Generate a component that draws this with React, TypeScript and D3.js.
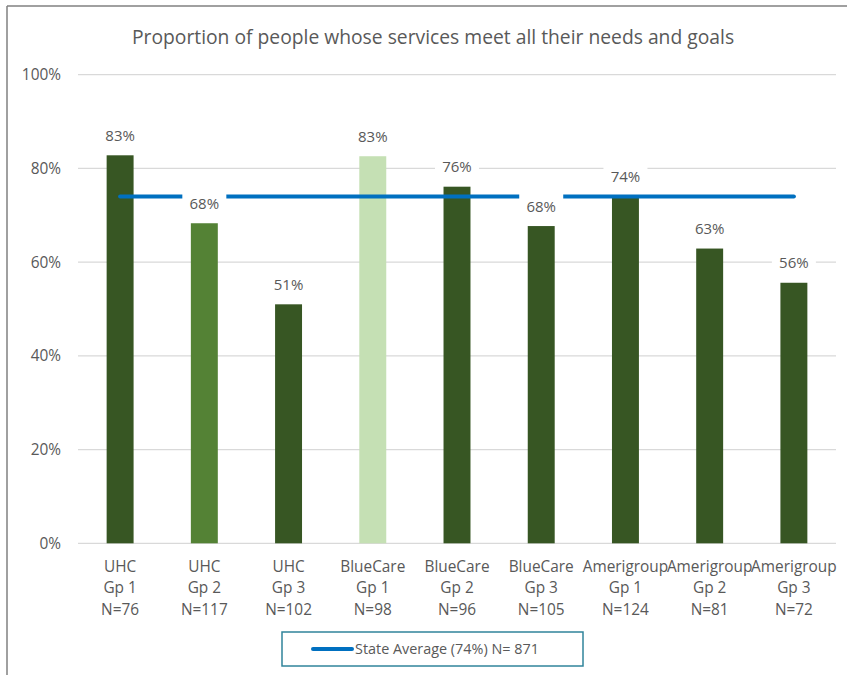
import React from "react";
import * as d3 from "d3";

const categories = [
  ["UHC", "Gp 1", "N=76"],
  ["UHC", "Gp 2", "N=117"],
  ["UHC", "Gp 3", "N=102"],
  ["BlueCare", "Gp 1", "N=98"],
  ["BlueCare", "Gp 2", "N=96"],
  ["BlueCare", "Gp 3", "N=105"],
  ["Amerigroup", "Gp 1", "N=124"],
  ["Amerigroup", "Gp 2", "N=81"],
  ["Amerigroup", "Gp 3", "N=72"],
];
const values = [82.8, 68.3, 51.0, 82.6, 76.1, 67.7, 74.0, 62.9, 55.6];
const labels = ["83%", "68%", "51%", "83%", "76%", "68%", "74%", "63%", "56%"];
const barColors = ["#375623", "#548235", "#375623", "#C5E0B4", "#375623", "#375623", "#375623", "#375623", "#375623"];
const stateAverage = 74;
const yTicks = [0, 20, 40, 60, 80, 100];
const title = "Proportion of people whose services meet all their needs and goals";
const legendLabel = "State Average (74%) N= 871";

const W = 847;
const H = 675;
const FONT = "'Open Sans', 'Liberation Sans', sans-serif";
const TXT = "#595959";

export default function App() {
  const x = d3.scaleBand<number>().domain(d3.range(categories.length)).range([78, 836]).paddingInner(0.68).paddingOuter(0.34);
  const y = d3.scaleLinear().domain([0, 100]).range([543.3, 74.7]);
  const bw = x.bandwidth();
  const cx = (i: number) => (x(i) as number) + bw / 2;
  const avgY = y(stateAverage);

  return (
    <svg width={W} height={H} style={{ position: "absolute", left: 0, top: 0, fontFamily: FONT }}>
      <rect x={0} y={0} width={W} height={H} fill="#fff" />
      <line x1={7} y1={6} x2={W} y2={6} stroke="#808080" strokeWidth={1.5} />
      <line x1={7} y1={6} x2={7} y2={H} stroke="#808080" strokeWidth={1.5} />
      <text x={433} y={44} textAnchor="middle" fontSize={19.3} fill={TXT}>{title}</text>
      {yTicks.map((t) => (
        <g key={t}>
          <line x1={78} x2={836} y1={y(t)} y2={y(t)} stroke="#D9D9D9" strokeWidth={1.3} />
          <text x={61} y={y(t) + 5.5} textAnchor="end" fontSize={15.4} fill={TXT}>{t}%</text>
        </g>
      ))}
      {values.map((v, i) => (
        <rect key={i} x={x(i)} y={y(v)} width={bw} height={y(0) - y(v)} fill={barColors[i]} />
      ))}
      <line x1={cx(0)} x2={cx(categories.length - 1)} y1={avgY} y2={avgY} stroke="#0070C0" strokeWidth={4} strokeLinecap="round" />
      {values.map((v, i) => (
        <g key={i}>
          <rect x={cx(i) - 22} y={y(v) - 33} width={44} height={22} fill="#fff" />
          <text x={cx(i)} y={y(v) - 14.5} textAnchor="middle" fontSize={15} fill={TXT}>{labels[i]}</text>
        </g>
      ))}
      {categories.map((c, i) => (
        <g key={i}>
          {c.map((s, j) => (
            <text key={j} x={cx(i)} y={572 + j * 21.3} textAnchor="middle" fontSize={15.4} fill={TXT}>{s}</text>
          ))}
        </g>
      ))}
      <rect x={282} y={632} width={301} height={34} fill="#fff" stroke="#31849B" strokeWidth={1.5} />
      <line x1={313} x2={352} y1={649} y2={649} stroke="#0070C0" strokeWidth={4} strokeLinecap="round" />
      <text x={355} y={654} fontSize={14.4} fill={TXT}>{legendLabel}</text>
    </svg>
  );
}
